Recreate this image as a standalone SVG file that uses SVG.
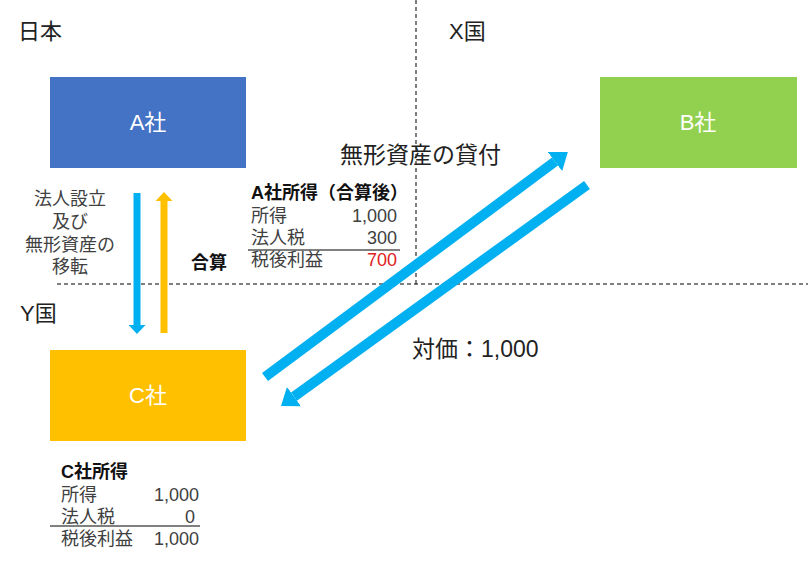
<svg xmlns="http://www.w3.org/2000/svg" width="808" height="563" viewBox="0 0 808 563">
<style>
text{font-family:"Liberation Sans","Noto Sans CJK JP",sans-serif}
.lbl{font-size:22px;fill:#222}
.big{font-size:23px;fill:#222}
.box{font-size:22px;fill:#fff}
.t{font-size:18px;fill:#404040}
.tb{font-size:18px;fill:#111;font-weight:bold}
.r{text-anchor:end}
.dash{stroke:#000;stroke-width:1;stroke-dasharray:4 3;fill:none}
</style>
<defs>
<marker id="hb" markerUnits="userSpaceOnUse" viewBox="0 0 9 17" refX="0" refY="8.5" markerWidth="9" markerHeight="17" orient="auto"><path d="M0,0 L9,8.5 L0,17 Z" fill="#00B0F0"/></marker>
<marker id="ho" markerUnits="userSpaceOnUse" viewBox="0 0 9 17" refX="0" refY="8.5" markerWidth="9" markerHeight="17" orient="auto"><path d="M0,0 L9,8.5 L0,17 Z" fill="#FFC000"/></marker>
<marker id="hd" markerUnits="userSpaceOnUse" viewBox="0 0 16 24" refX="0" refY="12" markerWidth="16" markerHeight="24" orient="auto"><path d="M0,0 L16,12 L0,24 Z" fill="#00B0F0"/></marker>
</defs>
<rect width="808" height="563" fill="#fff"/>
<g id="borders">
<line class="dash" x1="416" y1="0" x2="416" y2="284"/>
<line class="dash" x1="57" y1="284" x2="808" y2="284"/>
</g>
<text class="lbl" x="18" y="39">日本</text>
<text class="lbl" x="449" y="39">X国</text>
<text class="lbl" x="20" y="321">Y国</text>
<g id="nodeA"><rect x="50" y="77" width="196" height="91" fill="#4472C4"/><text class="box" x="148" y="130" text-anchor="middle">A社</text></g>
<g id="nodeB"><rect x="600" y="77" width="197" height="91" fill="#92D050"/><text class="box" x="698" y="130" text-anchor="middle">B社</text></g>
<g id="nodeC"><rect x="50" y="350" width="196" height="91" fill="#FFC000"/><text class="box" x="148" y="403" text-anchor="middle">C社</text></g>
<g id="connectors">
<line x1="137" y1="193" x2="137" y2="325" stroke="#00B0F0" stroke-width="7" marker-end="url(#hb)"/>
<line x1="164" y1="333" x2="164" y2="201" stroke="#FFC000" stroke-width="7" marker-end="url(#ho)"/>
<line x1="265" y1="377" x2="555" y2="161.6" stroke="#00B0F0" stroke-width="10" marker-end="url(#hd)"/>
<line x1="587" y1="185" x2="294" y2="396.6" stroke="#00B0F0" stroke-width="10" marker-end="url(#hd)"/>
</g>
<g id="labels">
<text class="t" x="70" y="205" text-anchor="middle">法人設立</text>
<text class="t" x="70" y="228" text-anchor="middle">及び</text>
<text class="t" x="70" y="251" text-anchor="middle">無形資産の</text>
<text class="t" x="70" y="273" text-anchor="middle">移転</text>
<text class="tb" x="191" y="269">合算</text>
<text class="big" x="340" y="163">無形資産の貸付</text>
<text class="big" x="412" y="357">対価：1,000</text>
</g>
<g id="tableA">
<text class="tb" x="251" y="199">A社所得（合算後）</text>
<text class="t" x="251" y="222">所得</text><text class="t r" x="397" y="222">1,000</text>
<text class="t" x="251" y="244">法人税</text><text class="t r" x="397" y="244">300</text>
<line x1="248" y1="250" x2="400" y2="250" stroke="#000" stroke-width="1"/>
<text class="t" x="251" y="266">税後利益</text><text class="t r" x="397" y="266" style="fill:#E02020">700</text>
</g>
<g id="tableC">
<text class="tb" x="61" y="478">C社所得</text>
<text class="t" x="61" y="501">所得</text><text class="t r" x="199" y="501">1,000</text>
<text class="t" x="61" y="523">法人税</text><text class="t r" x="195" y="523">0</text>
<line x1="50" y1="526" x2="200" y2="526" stroke="#000" stroke-width="1"/>
<text class="t" x="61" y="545">税後利益</text><text class="t r" x="199" y="545">1,000</text>
</g>
</svg>
